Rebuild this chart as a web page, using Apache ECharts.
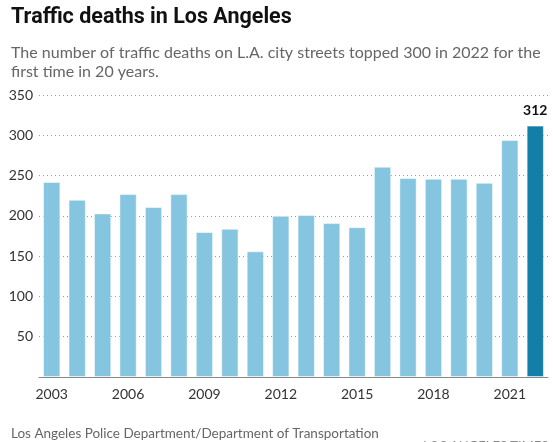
<!DOCTYPE html>
<html><head><meta charset="utf-8">
<script src="https://cdn.jsdelivr.net/npm/echarts@6/dist/echarts.min.js"></script>
<style>html,body{margin:0;padding:0;background:#fff}#c{width:553px;height:442px}</style>
</head><body><div id="c"></div>
<script>
const years = ['2003','2004','2005','2006','2007','2008','2009','2010','2011','2012','2013','2014','2015','2016','2017','2018','2019','2020','2021','2022'];
const deaths = [242,220,203,227,211,227,180,184,156,200,201,191,186,261,247,246,246,241,294,312];
const yTicks = [50,100,150,200,250,300,350];
const highlightYear = '2022';

const chart = echarts.init(document.getElementById('c'), null, {renderer:'canvas'});
const light = '#85c5df', dark = '#137fa8';
chart.setOption({
  animation:false,
  textStyle:{fontFamily:'Lato, "Noto Sans", sans-serif'},
  title:[
    {text:'Traffic deaths in Los Angeles', left:6, top:2,
     textStyle:{fontFamily:'Roboto, sans-serif', fontWeight:'bold', fontSize:21.5, color:'#111'}},
    {text:'The number of traffic deaths on L.A. city streets topped 300 in 2022 for the\nfirst time in 20 years.', left:6, top:38,
     textStyle:{fontFamily:'Lato, sans-serif', fontWeight:'normal', fontSize:16, lineHeight:19, color:'#666'}},
    {text:'Los Angeles Police Department/Department of Transportation', left:6, top:422,
     textStyle:{fontFamily:'Lato, sans-serif', fontWeight:'normal', fontSize:13.5, color:'#666'}},
    {text:'LOS ANGELES TIMES', left:418, top:435,
     textStyle:{fontFamily:'Lato, sans-serif', fontWeight:'normal', fontSize:13, color:'#888'}}
  ],
  grid:{left:39, right:5, top:95, bottom:65, containLabel:false},
  xAxis:{type:'category', data:years,
    axisLine:{lineStyle:{color:'#888', width:1}},
    axisTick:{show:false},
    axisLabel:{interval:2, color:'#333', fontSize:14, margin:10, fontFamily:'Lato, sans-serif'}},
  yAxis:{type:'value', min:0, max:350, interval:50,
    axisLine:{show:false}, axisTick:{show:false},
    splitLine:{lineStyle:{type:[1,3], color:'#999', width:1}},
    axisLabel:{color:'#333', fontSize:14, margin:6, fontFamily:'Lato, sans-serif',
      formatter:v=> yTicks.includes(v) ? String(v) : ''}},
  series:[{type:'bar', barCategoryGap:'32%',
    data:deaths.map((v,i)=>({value:v,
      itemStyle:{color: years[i]===highlightYear?dark:light, borderColor:'rgba(255,255,255,0.5)', borderWidth:1},
      label: years[i]===highlightYear ? {show:true, position:'top', distance:8, fontWeight:'bold', fontSize:14, color:'#111', fontFamily:'Lato, sans-serif'} : {show:false}
    }))
  }]
});
</script></body></html>
